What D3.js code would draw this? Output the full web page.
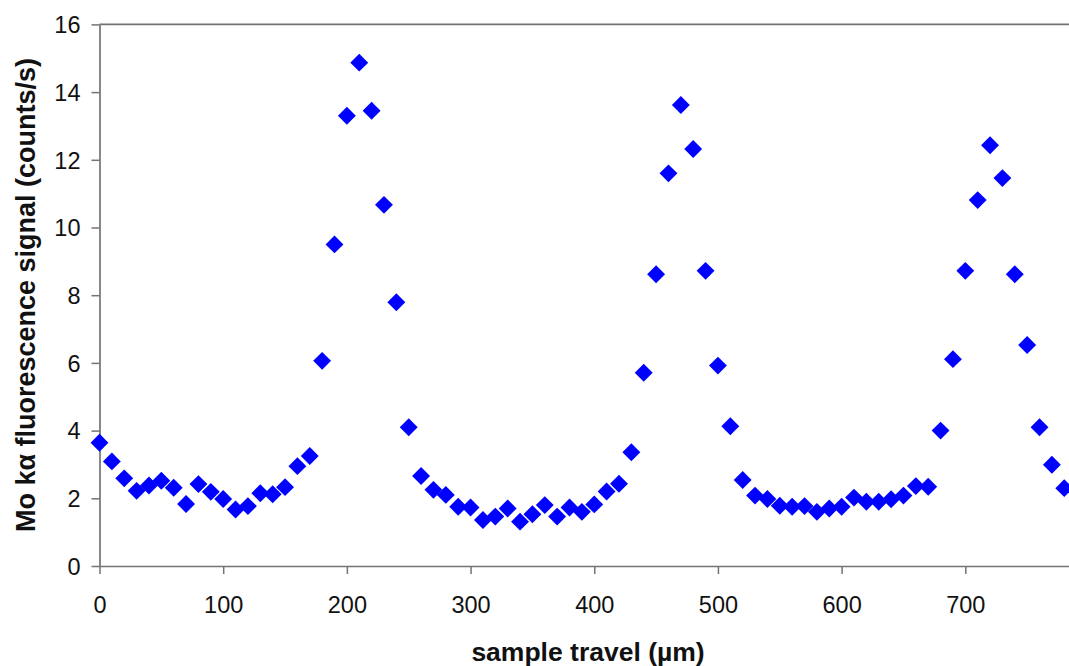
<!DOCTYPE html>
<html>
<head>
<meta charset="utf-8">
<script src="https://cdn.jsdelivr.net/npm/d3@7"></script>
<style>
  html, body { margin: 0; padding: 0; background: #fff; }
  svg { display: block; }
</style>
</head>
<body>
<svg id="chart" width="1069" height="666"></svg>
<script>
const travel = [0,10,20,30,40,50,60,70,80,90,100,110,120,130,140,150,160,170,180,190,200,210,220,230,240,250,260,270,280,290,300,310,320,330,340,350,360,370,380,390,400,410,420,430,440,450,460,470,480,490,500,510,520,530,540,550,560,570,580,590,600,610,620,630,640,650,660,670,680,690,700,710,720,730,740,750,760,770,780];
const signal = [3.64,3.09,2.59,2.22,2.38,2.52,2.31,1.83,2.42,2.19,1.98,1.67,1.77,2.15,2.12,2.33,2.95,3.25,6.06,9.50,13.30,14.87,13.45,10.67,7.79,4.10,2.66,2.25,2.10,1.75,1.73,1.36,1.46,1.70,1.31,1.53,1.80,1.46,1.73,1.60,1.82,2.20,2.43,3.36,5.71,8.62,11.60,13.62,12.32,8.72,5.92,4.13,2.54,2.08,1.98,1.78,1.75,1.77,1.60,1.70,1.75,2.02,1.90,1.90,1.97,2.08,2.36,2.34,4.00,6.11,8.72,10.81,12.43,11.46,8.62,6.53,4.10,2.99,2.30];
const xTicks = [0,100,200,300,400,500,600,700];
const yTicks = [0,2,4,6,8,10,12,14,16];
const xTitle = "sample travel (µm)";
const yTitle = "Mo kα fluorescence signal (counts/s)";

(function () {
const svg = d3.select("#chart");
const pLeft = 99.5, pTop = 24.4, pBottom = 566, pRight = 1089;
const x = d3.scaleLinear().domain([0, 800]).range([pLeft, pRight]);
const y = d3.scaleLinear().domain([0, 16]).range([pBottom, pTop]);
const axisColor = "#737373";
const font = "'Liberation Sans', Arial, sans-serif";

// top border
svg.append("line")
  .attr("x1", pLeft).attr("x2", pRight)
  .attr("y1", y(16)).attr("y2", y(16))
  .attr("stroke", axisColor).attr("stroke-width", 1.7);

const gx = svg.append("g").attr("transform", `translate(0,${pBottom})`)
  .call(d3.axisBottom(x).tickValues(xTicks).tickSize(8).tickSizeOuter(0).tickPadding(22).tickFormat(d3.format("d")));
const gy = svg.append("g").attr("transform", `translate(${pLeft},0)`)
  .call(d3.axisLeft(y).tickValues(yTicks).tickSize(8).tickSizeOuter(0).tickPadding(11).tickFormat(d3.format("d")));

[gx, gy].forEach(g => {
  g.select(".domain").attr("stroke", axisColor).attr("stroke-width", 1.7);
  g.selectAll(".tick line").attr("stroke", axisColor).attr("stroke-width", 1.5);
  g.selectAll(".tick text").attr("fill", "#111").attr("font-family", font).attr("font-size", 23.5);
});
gy.selectAll(".tick text").attr("dy", "0.35em");

// points
const sym = d3.symbol().type(d3.symbolSquare).size(160);
svg.append("g").selectAll("path")
  .data(travel.map((t, i) => ({t, v: signal[i]})))
  .join("path")
  .attr("d", sym)
  .attr("transform", d => `translate(${x(d.t)},${y(d.v)}) rotate(45)`)
  .attr("fill", "#0000ff");

// titles
svg.append("text")
  .attr("x", 588).attr("y", 661)
  .attr("text-anchor", "middle")
  .attr("font-family", font).attr("font-weight", "bold").attr("font-size", 26.5)
  .attr("fill", "#111")
  .text(xTitle);

svg.append("text")
  .attr("transform", `translate(35,295) rotate(-90)`)
  .attr("text-anchor", "middle")
  .attr("font-family", font).attr("font-weight", "bold").attr("font-size", 27)
  .attr("fill", "#111")
  .text(yTitle);
})();
</script>
</body>
</html>
